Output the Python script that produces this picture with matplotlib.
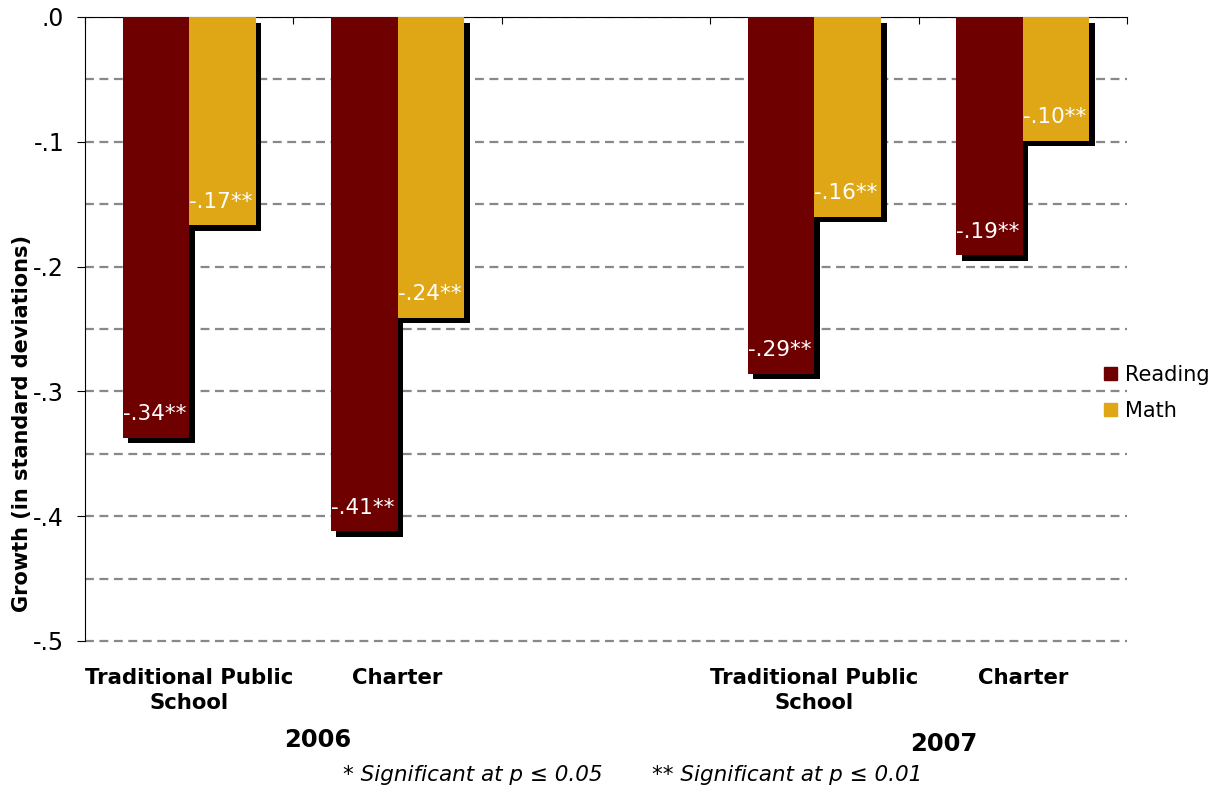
import numpy as np
import matplotlib
matplotlib.use("Agg")
import matplotlib.pyplot as plt
import matplotlib.patheffects as pe
from matplotlib.patches import Patch

# data
groups = ["Traditional Public\nSchool", "Charter", "Traditional Public\nSchool", "Charter"]
positions = [0, 1, 3, 4]
reading = [-0.337, -0.412, -0.286, -0.191]
math_ = [-0.167, -0.241, -0.160, -0.099]
reading_lbl = ["-.34**", "-.41**", "-.29**", "-.19**"]
math_lbl = ["-.17**", "-.24**", "-.16**", "-.10**"]
years = ["2006", "2007"]
yticks = [0.0, -0.1, -0.2, -0.3, -0.4, -0.5]
ytick_lbl = [".0", "-.1", "-.2", "-.3", "-.4", "-.5"]

c_read = "#6f0000"
c_math = "#dfa615"

fig = plt.figure(figsize=(12.13, 7.89), dpi=100)
ax = fig.add_axes([85 / 1213, 1 - 641 / 789, 1042 / 1213, 624 / 789])

w = 0.32
shadow = [pe.SimplePatchShadow(offset=(4, -4), shadow_rgbFace="black", alpha=1), pe.Normal()]
x = np.array(positions)
b1 = ax.bar(x - w / 2, reading, w, color=c_read, zorder=3)
b2 = ax.bar(x + w / 2, math_, w, color=c_math, zorder=3)
for b in list(b1) + list(b2):
    b.set_path_effects(shadow)

for xi, v, s in zip(x - w, reading, reading_lbl):
    ax.annotate(s, (xi, v), xytext=(0, 17), textcoords="offset points",
                ha="left", va="center", color="white", fontsize=15.5, zorder=5)
for xi, v, s in zip(x, math_, math_lbl):
    ax.annotate(s, (xi, v), xytext=(0, 17), textcoords="offset points",
                ha="left", va="center", color="white", fontsize=15.5, zorder=5)

ax.set_ylim(-0.5, 0)
ax.set_xlim(-0.5, 4.5)
ax.set_yticks(yticks)
ax.set_yticklabels(ytick_lbl, fontsize=17)
ax.set_yticks(np.arange(-0.5, 0.0, 0.05), minor=True)
ax.tick_params(axis="y", which="major", length=6, direction="out", pad=9)
ax.tick_params(axis="y", which="minor", length=0)
ax.grid(axis="y", which="both", color="#888888", linestyle=(0, (4, 2.5)), linewidth=1.6, zorder=0)
# let the bottom (-.5) gridline show at full width
ax.yaxis.get_gridlines()[-1].set_clip_on(False)

ax.xaxis.tick_top()
ax.set_xticks(np.arange(-0.5, 5, 1))
ax.set_xticklabels([])
ax.tick_params(axis="x", direction="in", length=5)
ax.spines["right"].set_visible(False)
ax.spines["bottom"].set_visible(False)

for p, g in zip(positions, groups):
    ax.text(p, -0.5215, g, ha="center", va="top", fontsize=15.3, fontweight="bold",
            linespacing=1.35)

fig.text(318 / 1213, 1 - 740 / 789, years[0], ha="center", va="center", fontsize=17.5, fontweight="bold")
fig.text(944 / 1213, 1 - 744 / 789, years[1], ha="center", va="center", fontsize=17.5, fontweight="bold")
fig.text(22 / 1213, 1 - 423 / 789, "Growth (in standard deviations)", rotation=90,
         ha="center", va="center", fontsize=15, fontweight="bold")
fig.text(343 / 1213, 1 - 775 / 789, "* Significant at p \u2264 0.05", ha="left", va="center",
         fontsize=15.5, style="italic")
fig.text(652 / 1213, 1 - 775 / 789, "** Significant at p \u2264 0.01", ha="left", va="center",
         fontsize=15.5, style="italic")

handles = [Patch(color=c_read, label="Reading"), Patch(color=c_math, label="Math")]
fig.legend(handles=handles, loc="center left", bbox_to_anchor=(1104 / 1213, 1 - 393 / 789),
           frameon=False, fontsize=15, handlelength=0.6, handleheight=0.6,
           handletextpad=0.4, labelspacing=0.75, borderpad=0, borderaxespad=0)

fig.savefig("out.png", dpi=100)
